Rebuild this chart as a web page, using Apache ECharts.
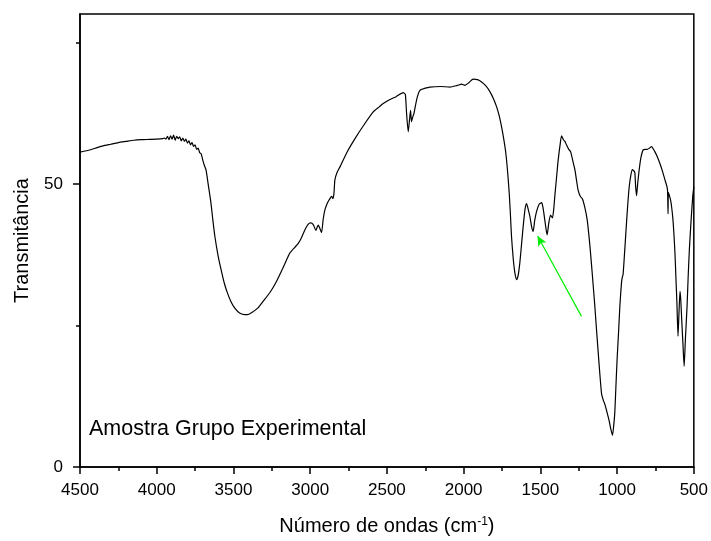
<!DOCTYPE html>
<html>
<head>
<meta charset="utf-8">
<script src="https://cdn.jsdelivr.net/npm/echarts@6/dist/echarts.min.js"></script>
<style>
html,body{margin:0;padding:0;background:#fff;}
#chart{width:711px;height:541px;}
</style>
</head>
<body>
<div id="chart"></div>
<script>
// Wavenumbers (cm-1), descending
var wavenumbers = [
4500,4450,4400,4350,4300,4250,4200,4150,4100,4050,4000,3960,
3950,3940,3930,3920,3910,3900,3890,3880,3870,3860,3850,3840,3830,3820,3810,3800,3790,3780,3770,3760,3750,3740,3730,3720,3710,
3700,3690,3679,3665,3647,3635,3621,3600,3581,3560,3540,3516,3490,3460,3425,3410,3380,3340,3308,3260,3219,3180,3150,3132,3100,3080,3060,3034,3015,2997,2980,2963,2955,2947,2938,2926,2915,2904,2890,2876,2860,2852,2845,2839,2825,2806,2760,2708,2650,2589,2550,2524,2480,2440,2394,2380,2372,2361,2352,2346,2340,2332,2324,2305,2285,2250,2220,2150,2090,2040,2013,1992,1965,1938,1910,1883,1855,1829,1805,1785,1768,1753,1738,1725,1713,1703,1695,1688,1676,1666,1655,1645,1634,1622,1612,1600,1590,1580,1568,1556,1547,1537,1525,1508,1492,1484,1477,1466,1456,1445,1434,1427,1421,1413,1406,1395,1384,1370,1362,1350,1340,1330,1315,1303,1288,1275,1262,1254,1240,1225,1210,1195,1184,1173,1160,1145,1135,1123,1112,1101,1090,1080,1066,1052,1040,1030,1022,1015,1008,1000,990,982,972,967,961,952,943,932,921,910,900,895,888,884,879,873,866,856,845,830,815,803,790,775,765,754,738,721,705,688,675,671,668,666,661,652,645,637,630,623,617,610,603,597,590,585,579,571,563,555,544,537,529,518,507,500
];
// Transmittance values
var transmittance = [
55.6,55.9,56.3,56.7,57.0,57.3,57.5,57.7,57.8,57.85,57.9,58.0,
58.1,57.9,58.4,57.8,58.5,57.9,58.6,57.7,58.4,58.0,58.3,57.6,58.1,57.5,57.9,57.2,57.6,56.9,57.3,56.6,56.9,56.1,56.3,55.5,55.3,
54.2,53.3,52.5,50.0,46.7,43.8,40.7,37.3,34.9,32.5,30.8,29.2,28.0,27.2,26.9,26.9,27.3,28.1,29.2,30.9,32.8,35.0,36.8,37.8,38.8,39.4,40.3,41.9,42.8,43.1,42.8,41.8,42.3,42.7,42.2,41.4,43.8,45.4,46.5,47.2,47.8,47.4,48.3,50.7,52.0,53.0,55.6,58.0,60.4,62.7,63.6,64.2,64.9,65.4,66.1,65.8,62.5,59.2,61.5,63.0,61.0,61.8,62.4,65.0,66.5,66.9,67.1,67.2,67.1,67.4,67.6,67.4,67.9,68.5,68.4,68.0,67.3,66.3,65.0,63.6,62.0,60.1,57.8,55.4,52.0,48.4,44.5,40.7,36.5,34.3,33.1,33.8,36.0,39.5,42.5,45.5,46.5,45.6,44.2,42.3,41.6,43.5,45.1,46.4,46.7,46.0,44.8,42.6,41.0,43.1,44.5,44.2,44.0,45.5,47.8,51.0,54.2,57.2,58.5,57.8,57.5,56.9,56.1,55.7,54.0,52.5,50.2,48.9,47.8,47.3,45.8,43.7,41.0,37.8,33.5,28.4,24.6,20.2,16.3,12.9,11.8,11.1,9.7,8.2,6.6,5.6,7.3,9.6,14.0,19.0,24.0,28.4,32.3,33.4,34.0,37.5,41.3,45.8,49.5,51.6,52.5,52.4,52.2,51.9,49.5,47.9,50.0,52.5,54.6,56.0,56.1,56.1,56.3,56.6,56.2,55.7,54.8,53.6,52.3,50.7,49.5,48.7,44.7,48.5,48.1,47.2,46.0,44.0,41.3,37.8,33.7,28.8,23.1,27.0,31.0,29.5,26.1,21.8,17.8,22.5,28.4,33.5,38.4,43.5,47.8,49.5
];
var yMajorTicks = [0, 50];
var yMinorTicks = [25, 75];
var arrowFrom = [1232, 26.6];
var arrowTo = [1518, 40.8];
var sampleLabel = 'Amostra Grupo Experimental';

var spectrum = wavenumbers.map(function(w, i){ return [w, transmittance[i]]; });

var chart = echarts.init(document.getElementById('chart'), null, {renderer:'canvas'});
var FONT = 'Liberation Sans, Arial, sans-serif';
chart.setOption({
  animation: false,
  backgroundColor: '#fff',
  title: {
    text: sampleLabel,
    left: 89, top: 418, padding: 0,
    textStyle: {fontFamily: FONT, fontSize: 21.5, fontWeight: 'normal', color: '#000'}
  },
  grid: {left: 80, right: 17, top: 14, bottom: 73, show: true, borderColor: '#000', borderWidth: 1.5, backgroundColor: 'transparent'},
  xAxis: {
    type: 'value', min: 500, max: 4500, interval: 500, inverse: true,
    name: 'Número de ondas (cm{sup|-1})', nameLocation: 'middle', nameGap: 49,
    nameTextStyle: {fontFamily: FONT, fontSize: 20, color: '#000',
      rich: {sup: {fontFamily: FONT, fontSize: 12, color: '#000', verticalAlign: 'top', padding: [0,0,0,0]}}},
    axisLine: {show: true, onZero: false, lineStyle: {color: '#000', width: 1.5}},
    axisTick: {show: true, inside: false, length: 7, lineStyle: {color: '#000', width: 1.5}},
    minorTick: {show: true, splitNumber: 2, length: 4, lineStyle: {color: '#000', width: 1.5}},
    axisLabel: {fontFamily: FONT, fontSize: 17, color: '#000', margin: 15,
      formatter: function(v){ return String(v); }},
    splitLine: {show: false}
  },
  yAxis: [{
    type: 'value', min: 0, max: 80,
    name: 'Transmitância', nameLocation: 'middle', nameGap: 48,
    nameTextStyle: {fontFamily: FONT, fontSize: 20, color: '#000'},
    axisLine: {show: true, onZero: false, lineStyle: {color: '#000', width: 1.5}},
    axisTick: {show: true, length: 7, customValues: yMajorTicks, lineStyle: {color: '#000', width: 1.5}},
    axisLabel: {fontFamily: FONT, fontSize: 17, color: '#000', margin: 17, customValues: yMajorTicks},
    splitLine: {show: false}
  }, {
    type: 'value', min: 0, max: 80, position: 'left',
    axisLine: {show: false},
    axisTick: {show: true, length: 4, customValues: yMinorTicks, lineStyle: {color: '#000', width: 1.5}},
    axisLabel: {show: false},
    splitLine: {show: false}
  }],
  series: [{
    type: 'line',
    data: spectrum,
    showSymbol: false,
    symbol: 'none',
    smooth: 0.2,
    lineStyle: {color: '#000', width: 1.2},
    markLine: {
      silent: true,
      symbol: ['none', 'arrow'],
      symbolSize: [7, 10],
      label: {show: false},
      lineStyle: {color: '#00ee00', width: 1.2, type: 'solid'},
      data: [[{coord: arrowFrom}, {coord: arrowTo}]]
    }
  }]
});
</script>
</body>
</html>
